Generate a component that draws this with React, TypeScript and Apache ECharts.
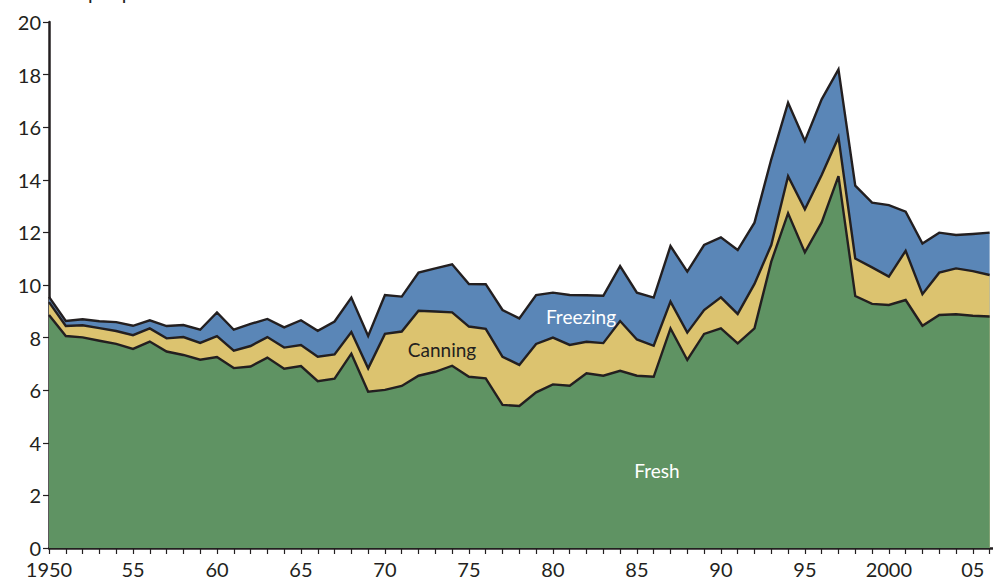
import React, { useEffect, useRef } from "react";
import * as echarts from "echarts";

const years = [
  1950, 1951, 1952, 1953, 1954, 1955, 1956, 1957, 1958, 1959,
  1960, 1961, 1962, 1963, 1964, 1965, 1966, 1967, 1968, 1969,
  1970, 1971, 1972, 1973, 1974, 1975, 1976, 1977, 1978, 1979,
  1980, 1981, 1982, 1983, 1984, 1985, 1986, 1987, 1988, 1989,
  1990, 1991, 1992, 1993, 1994, 1995, 1996, 1997, 1998, 1999,
  2000, 2001, 2002, 2003, 2004, 2005, 2006,
];

const fresh = [
  8.86, 8.06, 8.01, 7.88, 7.76, 7.57, 7.85, 7.47, 7.34, 7.16,
  7.26, 6.84, 6.9, 7.24, 6.82, 6.92, 6.34, 6.44, 7.39, 5.94,
  6.01, 6.16, 6.55, 6.7, 6.93, 6.51, 6.45, 5.44, 5.4, 5.92,
  6.22, 6.17, 6.64, 6.55, 6.74, 6.55, 6.51, 8.35, 7.15, 8.14,
  8.35, 7.78, 8.35, 10.89, 12.73, 11.24, 12.38, 14.14, 9.58, 9.28,
  9.24, 9.43, 8.45, 8.86, 8.89, 8.83, 8.8,
];

const canning = [
  0.49, 0.38, 0.46, 0.48, 0.49, 0.52, 0.5, 0.5, 0.68, 0.64,
  0.8, 0.66, 0.78, 0.78, 0.8, 0.8, 0.93, 0.92, 0.82, 0.89,
  2.13, 2.07, 2.47, 2.29, 2.03, 1.91, 1.88, 1.83, 1.56, 1.84,
  1.78, 1.55, 1.2, 1.24, 1.89, 1.38, 1.18, 1.02, 1.04, 0.91,
  1.18, 1.12, 1.69, 0.63, 1.41, 1.64, 1.8, 1.48, 1.43, 1.39,
  1.08, 1.87, 1.2, 1.61, 1.74, 1.7, 1.58,
];

const freezing = [
  0.2, 0.19, 0.23, 0.26, 0.34, 0.36, 0.31, 0.47, 0.46, 0.5,
  0.9, 0.8, 0.84, 0.69, 0.77, 0.94, 0.99, 1.25, 1.31, 1.23,
  1.48, 1.33, 1.45, 1.64, 1.83, 1.62, 1.7, 1.78, 1.77, 1.86,
  1.71, 1.9, 1.77, 1.8, 2.09, 1.78, 1.83, 2.11, 2.32, 2.47,
  2.28, 2.43, 2.33, 3.26, 2.79, 2.6, 2.88, 2.58, 2.77, 2.46,
  2.72, 1.49, 1.93, 1.52, 1.27, 1.41, 1.61,
];

const FONT = "Lato, 'Open Sans', sans-serif";
const INK = "#231f20";

export default function App() {
  const ref = useRef<HTMLDivElement>(null);

  useEffect(() => {
    if (!ref.current) return;
    const chart = echarts.init(ref.current, null, { renderer: "svg" });

    // cumulative tops for the stacked layers
    const freshTop = years.map((y, i) => [y, +fresh[i].toFixed(2)]);
    const canningTop = years.map((y, i) => [y, +(fresh[i] + canning[i]).toFixed(2)]);
    const freezingTop = years.map((y, i) => [
      y,
      +(fresh[i] + canning[i] + freezing[i]).toFixed(2),
    ]);

    const lineStyle = { color: INK, width: 2.4, join: "miter" as const };
    const mk = (name: string, data: number[][], color: string, z: number) => ({
      name,
      type: "line",
      data,
      z,
      symbol: "none",
      showSymbol: false,
      lineStyle,
      areaStyle: { color, opacity: 1, origin: "start" },
      emphasis: { disabled: true },
      silent: true,
    });

    chart.setOption({
      animation: false,
      grid: { left: 49, top: 22, width: 944, height: 526 },
      xAxis: {
        type: "value",
        min: 1950,
        max: 2006.2,
        interval: 1,
        axisLine: { show: true, onZero: false, lineStyle: { color: INK, width: 2.5 } },
        axisTick: { show: true, length: 6, lineStyle: { color: INK, width: 1.2 } },
        splitLine: { show: false },
        axisLabel: {
          margin: 12,
          fontFamily: FONT,
          fontSize: 20,
          lineHeight: 18,
          color: INK,
          showMinLabel: true,
          showMaxLabel: false,
          formatter: (v: number) => {
            const y = Math.round(v);
            if (Math.abs(v - y) > 1e-6 || y % 5 !== 0) return "";
            if (y === 1950 || y === 2000) return String(y);
            return String(y).slice(2);
          },
        },
      },
      yAxis: {
        type: "value",
        min: 0,
        max: 20,
        interval: 2,
        axisLine: { show: true, lineStyle: { color: INK, width: 2.5 } },
        axisTick: { show: true, length: 6, lineStyle: { color: INK, width: 1.2 } },
        splitLine: { show: false },
        axisLabel: {
          margin: 8,
          fontFamily: FONT,
          fontSize: 20,
          lineHeight: 16,
          color: INK,
        },
      },
      series: [
        mk("Freezing", freezingTop, "#5a86b7", 2),
        mk("Canning", canningTop, "#dcc36f", 3),
        mk("Fresh", freshTop, "#5f9363", 4),
      ],
      graphic: [
        {
          type: "text",
          left: 18,
          top: -18,
          style: { text: "Pounds per person", font: `20px ${FONT}`, fill: INK },
        },
        {
          type: "text",
          x: 657,
          y: 470,
          z: 10,
          style: {
            text: "Fresh",
            font: `19px ${FONT}`,
            fill: "#ffffff",
            textAlign: "center",
            textVerticalAlign: "middle",
          },
        },
        {
          type: "text",
          x: 442,
          y: 349,
          z: 10,
          style: {
            text: "Canning",
            font: `19px ${FONT}`,
            fill: INK,
            textAlign: "center",
            textVerticalAlign: "middle",
          },
        },
        {
          type: "text",
          x: 581,
          y: 316,
          z: 10,
          style: {
            text: "Freezing",
            font: `19px ${FONT}`,
            fill: "#ffffff",
            textAlign: "center",
            textVerticalAlign: "middle",
          },
        },
      ],
    });

    return () => chart.dispose();
  }, []);

  return (
    <div
      ref={ref}
      style={{ position: "fixed", left: 0, top: 0, width: 993, height: 584, background: "#fff" }}
    />
  );
}
